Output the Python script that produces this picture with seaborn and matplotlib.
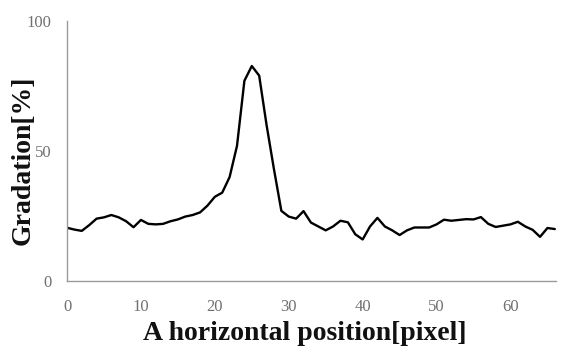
import matplotlib
matplotlib.use("Agg")
import matplotlib.pyplot as plt
import seaborn as sns
import pandas as pd

positions = list(range(0, 67))
gradation = [20.5, 19.8, 19.3, 21.5, 24.0, 24.5, 25.4, 24.5, 23.0, 20.7,
             23.5, 22.0, 21.8, 22.0, 23.0, 23.7, 24.8, 25.4, 26.4, 29.0,
             32.4, 34.0, 40.0, 52.0, 77.0, 82.7, 79.0, 60.0, 43.0, 27.0,
             24.8, 24.0, 26.9, 22.5, 21.0, 19.5, 21.0, 23.2, 22.6, 18.0,
             16.0, 21.0, 24.3, 21.0, 19.5, 17.7, 19.5, 20.6, 20.6, 20.6,
             21.8, 23.6, 23.2, 23.5, 23.8, 23.7, 24.6, 22.0, 20.8, 21.3,
             21.8, 22.8, 21.0, 19.7, 17.0, 20.4, 20.0]
x_ticks = [0, 10, 20, 30, 40, 50, 60]
y_ticks = [0, 50, 100]

df = pd.DataFrame({"pos": positions, "grad": gradation})

sns.set_theme(style="white")
plt.rcParams["font.family"] = ["Liberation Serif", "DejaVu Serif"]

fig = plt.figure(figsize=(5.65, 3.47), dpi=100)
ax = fig.add_axes([0.1186, 0.19, 0.866, 0.7495])
sns.lineplot(data=df, x="pos", y="grad", ax=ax, color="black", linewidth=1.7)

ax.set_xlim(0, 66.2)
ax.set_ylim(0, 100)
ax.set_xticks(x_ticks)
ax.set_yticks(y_ticks)
for s in ["top", "right"]:
    ax.spines[s].set_visible(False)
for s in ["left", "bottom"]:
    ax.spines[s].set_color("#9a9a9a")
    ax.spines[s].set_linewidth(1.0)
ax.tick_params(axis="both", direction="in", length=4, width=0.8, color="#9a9a9a",
               labelsize=12, labelcolor="#707070")
ax.tick_params(axis="x", pad=13)
ax.tick_params(axis="y", pad=11)
ax.set_xlabel("A horizontal position[pixel]", fontsize=20, fontweight="bold",
              color="#111111", va="center")
ax.set_ylabel("Gradation[%]", fontsize=20, fontweight="bold", color="#111111",
              va="center")
ax.xaxis.set_label_coords(0.486, -0.2)
ax.yaxis.set_label_coords(-0.09, 0.465)

fig.savefig("out.png", dpi=100)
